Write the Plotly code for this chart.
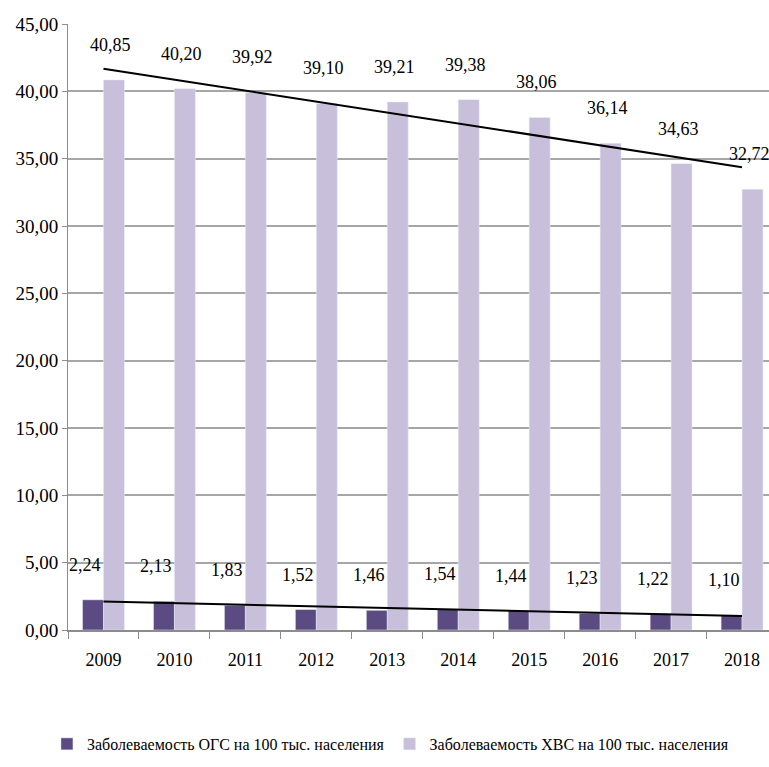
import numpy as np
import plotly.graph_objects as go

years = ["2009", "2010", "2011", "2012", "2013", "2014", "2015", "2016", "2017", "2018"]
ogs = [2.24, 2.13, 1.83, 1.52, 1.46, 1.54, 1.44, 1.23, 1.22, 1.10]
hvs = [40.85, 40.20, 39.92, 39.10, 39.21, 39.38, 38.06, 36.14, 34.63, 32.72]
name_ogs = "Заболеваемость ОГС на 100 тыс. населения"
name_hvs = "Заболеваемость ХВС на 100 тыс. населения"

c_dark = "#5c4a82"
c_light = "#c8bfdb"
FONT = "Liberation Serif, Times New Roman, serif"

idx = np.arange(len(years))
tr_ogs = np.polyval(np.polyfit(idx, ogs, 1), idx)
tr_hvs = np.polyval(np.polyfit(idx, hvs, 1), idx)

fig = go.Figure()
fig.add_trace(go.Bar(x=years, y=ogs, name=name_ogs, marker_color=c_dark))
fig.add_trace(go.Bar(x=years, y=hvs, name=name_hvs, marker_color=c_light))
fig.add_trace(go.Scatter(x=years, y=tr_ogs, mode="lines", line=dict(color="black", width=2),
                         showlegend=False, hoverinfo="skip"))
fig.add_trace(go.Scatter(x=years, y=tr_hvs, mode="lines", line=dict(color="black", width=2),
                         showlegend=False, hoverinfo="skip"))

for i in range(len(years)):
    fig.add_annotation(x=i, y=hvs[i] + 2.6, text=f"{hvs[i]:.2f}".replace(".", ","),
                       showarrow=False, xshift=7, font=dict(size=18, color="black", family=FONT))
    fig.add_annotation(x=i, y=ogs[i] + 2.6, text=f"{ogs[i]:.2f}".replace(".", ","),
                       showarrow=False, xshift=-18, font=dict(size=18, color="black", family=FONT))

fig.update_layout(
    width=769, height=767,
    margin=dict(l=68, r=0, t=24, b=137),
    paper_bgcolor="white", plot_bgcolor="white",
    barmode="group", bargap=0.41, bargroupgap=0,
    separators=", ",
    font=dict(family=FONT, size=17, color="black"),
    legend=dict(orientation="h", x=0.46, xanchor="center", y=-0.16, yanchor="top",
                font=dict(size=16, family=FONT), traceorder="normal", itemwidth=30,
                tracegroupgap=0),
    showlegend=True,
)
fig.update_xaxes(type="category", range=[-0.5, 9.38], showline=True, linecolor="#8c8c8c", linewidth=2,
                 ticks="outside", tickson="boundaries", ticklen=7, tickcolor="#8c8c8c",
                 ticklabelstandoff=12,
                 tickfont=dict(size=18, family=FONT), showgrid=False)
fig.update_yaxes(range=[0, 45], dtick=5, tickformat=".2f", showline=True, linecolor="#8c8c8c", linewidth=1,
                 ticks="outside", ticklen=5, tickcolor="#8c8c8c", gridcolor="#a6a6a6", gridwidth=2,
                 tickfont=dict(size=19, family=FONT), zeroline=False)

fig.write_html("out.html")
